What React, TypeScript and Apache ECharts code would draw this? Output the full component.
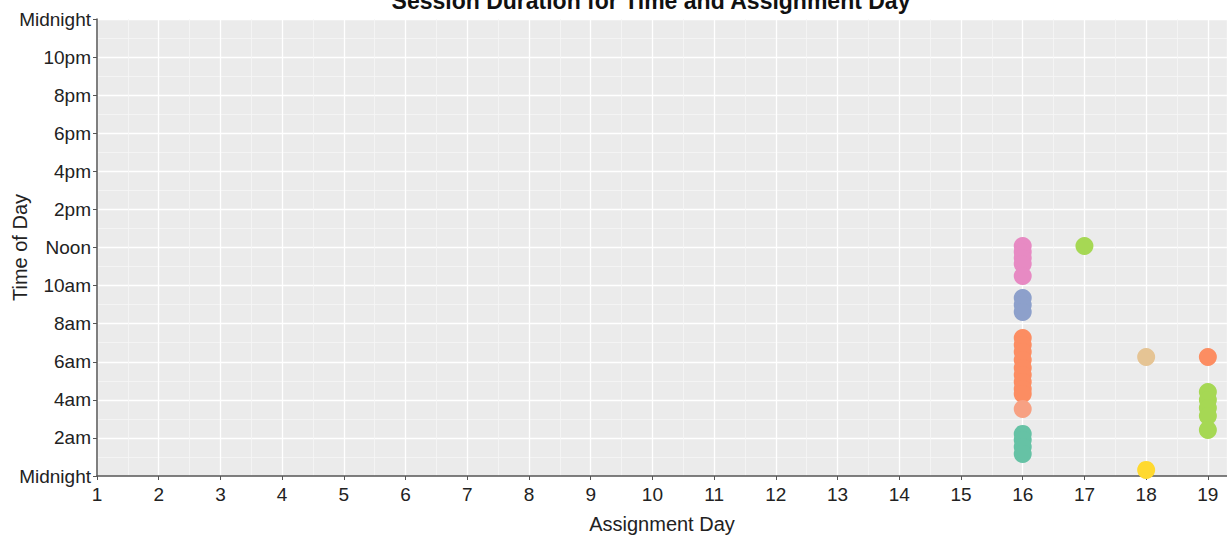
import React, { useEffect, useRef } from "react";
import * as echarts from "echarts";

const dayTicks = [1, 2, 3, 4, 5, 6, 7, 8, 9, 10, 11, 12, 13, 14, 15, 16, 17, 18, 19];
const hourLabels: Record<number, string> = {
  0: "Midnight", 2: "2am", 4: "4am", 6: "6am", 8: "8am", 10: "10am",
  12: "Noon", 14: "2pm", 16: "4pm", 18: "6pm", 20: "8pm", 22: "10pm", 24: "Midnight",
};

const pinkPts = [[16, 12.08], [16, 11.76], [16, 11.45], [16, 11.13], [16, 10.5]];
const bluePts = [[16, 9.35], [16, 8.98], [16, 8.61]];
const orangePts = [[16, 7.25], [16, 6.88], [16, 6.51], [16, 6.09], [16, 5.67], [16, 5.3], [16, 4.94], [16, 4.57], [16, 4.31], [19, 6.25]];
const salmonPts = [[16, 3.52]];
const tealPts = [[16, 2.21], [16, 1.89], [16, 1.52], [16, 1.16]];
const greenPts = [[17, 12.08], [19, 4.41], [19, 3.99], [19, 3.57], [19, 3.15], [19, 2.42]];
const tanPts = [[18, 6.25]];
const yellowPts = [[18, 0.32]];

const groups = [
  { name: "pink", data: pinkPts, color: "#e78ac3" },
  { name: "blue", data: bluePts, color: "#8da0cb" },
  { name: "orange", data: orangePts, color: "#fc8d62" },
  { name: "salmon", data: salmonPts, color: "#f7a183" },
  { name: "teal", data: tealPts, color: "#66c2a5" },
  { name: "green", data: greenPts, color: "#a6d854" },
  { name: "tan", data: tanPts, color: "#e5c494" },
  { name: "yellow", data: yellowPts, color: "#ffd92f" },
];

export default function App() {
  const ref = useRef<HTMLDivElement>(null);
  useEffect(() => {
    if (!ref.current) return;
    const chart = echarts.init(ref.current, null, { renderer: "svg" });
    const font = "Liberation Sans, Arial, sans-serif";
    chart.setOption({
      animation: false,
      title: {
        text: "Session Duration for Time and Assignment Day",
        left: 646,
        textAlign: "center",
        top: -16,
        textStyle: { fontFamily: font, fontSize: 23, fontWeight: "bold", color: "#111" },
      },
      grid: {
        left: 97, right: 0, top: 19, bottom: 65,
        outerBoundsMode: "none",
        containLabel: false,
        show: true, backgroundColor: "#ebebeb", borderWidth: 0,
      },
      xAxis: {
        type: "value",
        min: 1,
        max: 19.31,
        interval: 1,
        name: "Assignment Day",
        nameLocation: "middle",
        nameGap: 38,
        nameMoveOverlap: false,
        nameTextStyle: { fontFamily: font, fontSize: 20, color: "#222" },
        axisLine: { show: true, lineStyle: { color: "#555", width: 1.5 } },
        axisTick: { show: true, length: 4, lineStyle: { color: "#555" } },
        axisLabel: {
          fontFamily: font, fontSize: 19, color: "#222", margin: 9,
          showMaxLabel: false,
          formatter: (v: number) => (dayTicks.includes(v) ? String(v) : ""),
        },
        splitLine: { show: true, lineStyle: { color: "#ffffff", width: 1.3 } },
        minorTick: { show: false, splitNumber: 2 },
        minorSplitLine: { show: true, lineStyle: { color: "#f6f6f6", width: 0.8 } },
      },
      yAxis: {
        type: "value",
        min: 0,
        max: 24,
        interval: 2,
        name: "Time of Day",
        nameLocation: "middle",
        nameGap: 67,
        nameMoveOverlap: false,
        nameTextStyle: { fontFamily: font, fontSize: 20, color: "#222" },
        axisLine: { show: true, lineStyle: { color: "#555", width: 1.5 } },
        axisTick: { show: true, length: 4, lineStyle: { color: "#555" } },
        axisLabel: {
          fontFamily: font, fontSize: 19, color: "#222", margin: 6,
          formatter: (v: number) => hourLabels[v] ?? "",
        },
        splitLine: { show: true, lineStyle: { color: "#ffffff", width: 1.3 } },
        minorTick: { show: false, splitNumber: 2 },
        minorSplitLine: { show: true, lineStyle: { color: "#f6f6f6", width: 0.8 } },
      },
      series: groups.map((g) => ({
        name: g.name,
        type: "scatter",
        data: g.data,
        symbolSize: 18,
        itemStyle: { color: g.color, opacity: 1 },
        clip: false,
      })),
    });
    return () => chart.dispose();
  }, []);
  return (
    <div
      ref={ref}
      style={{ position: "fixed", left: 0, top: 0, width: 1227, height: 541, background: "#fff" }}
    />
  );
}
